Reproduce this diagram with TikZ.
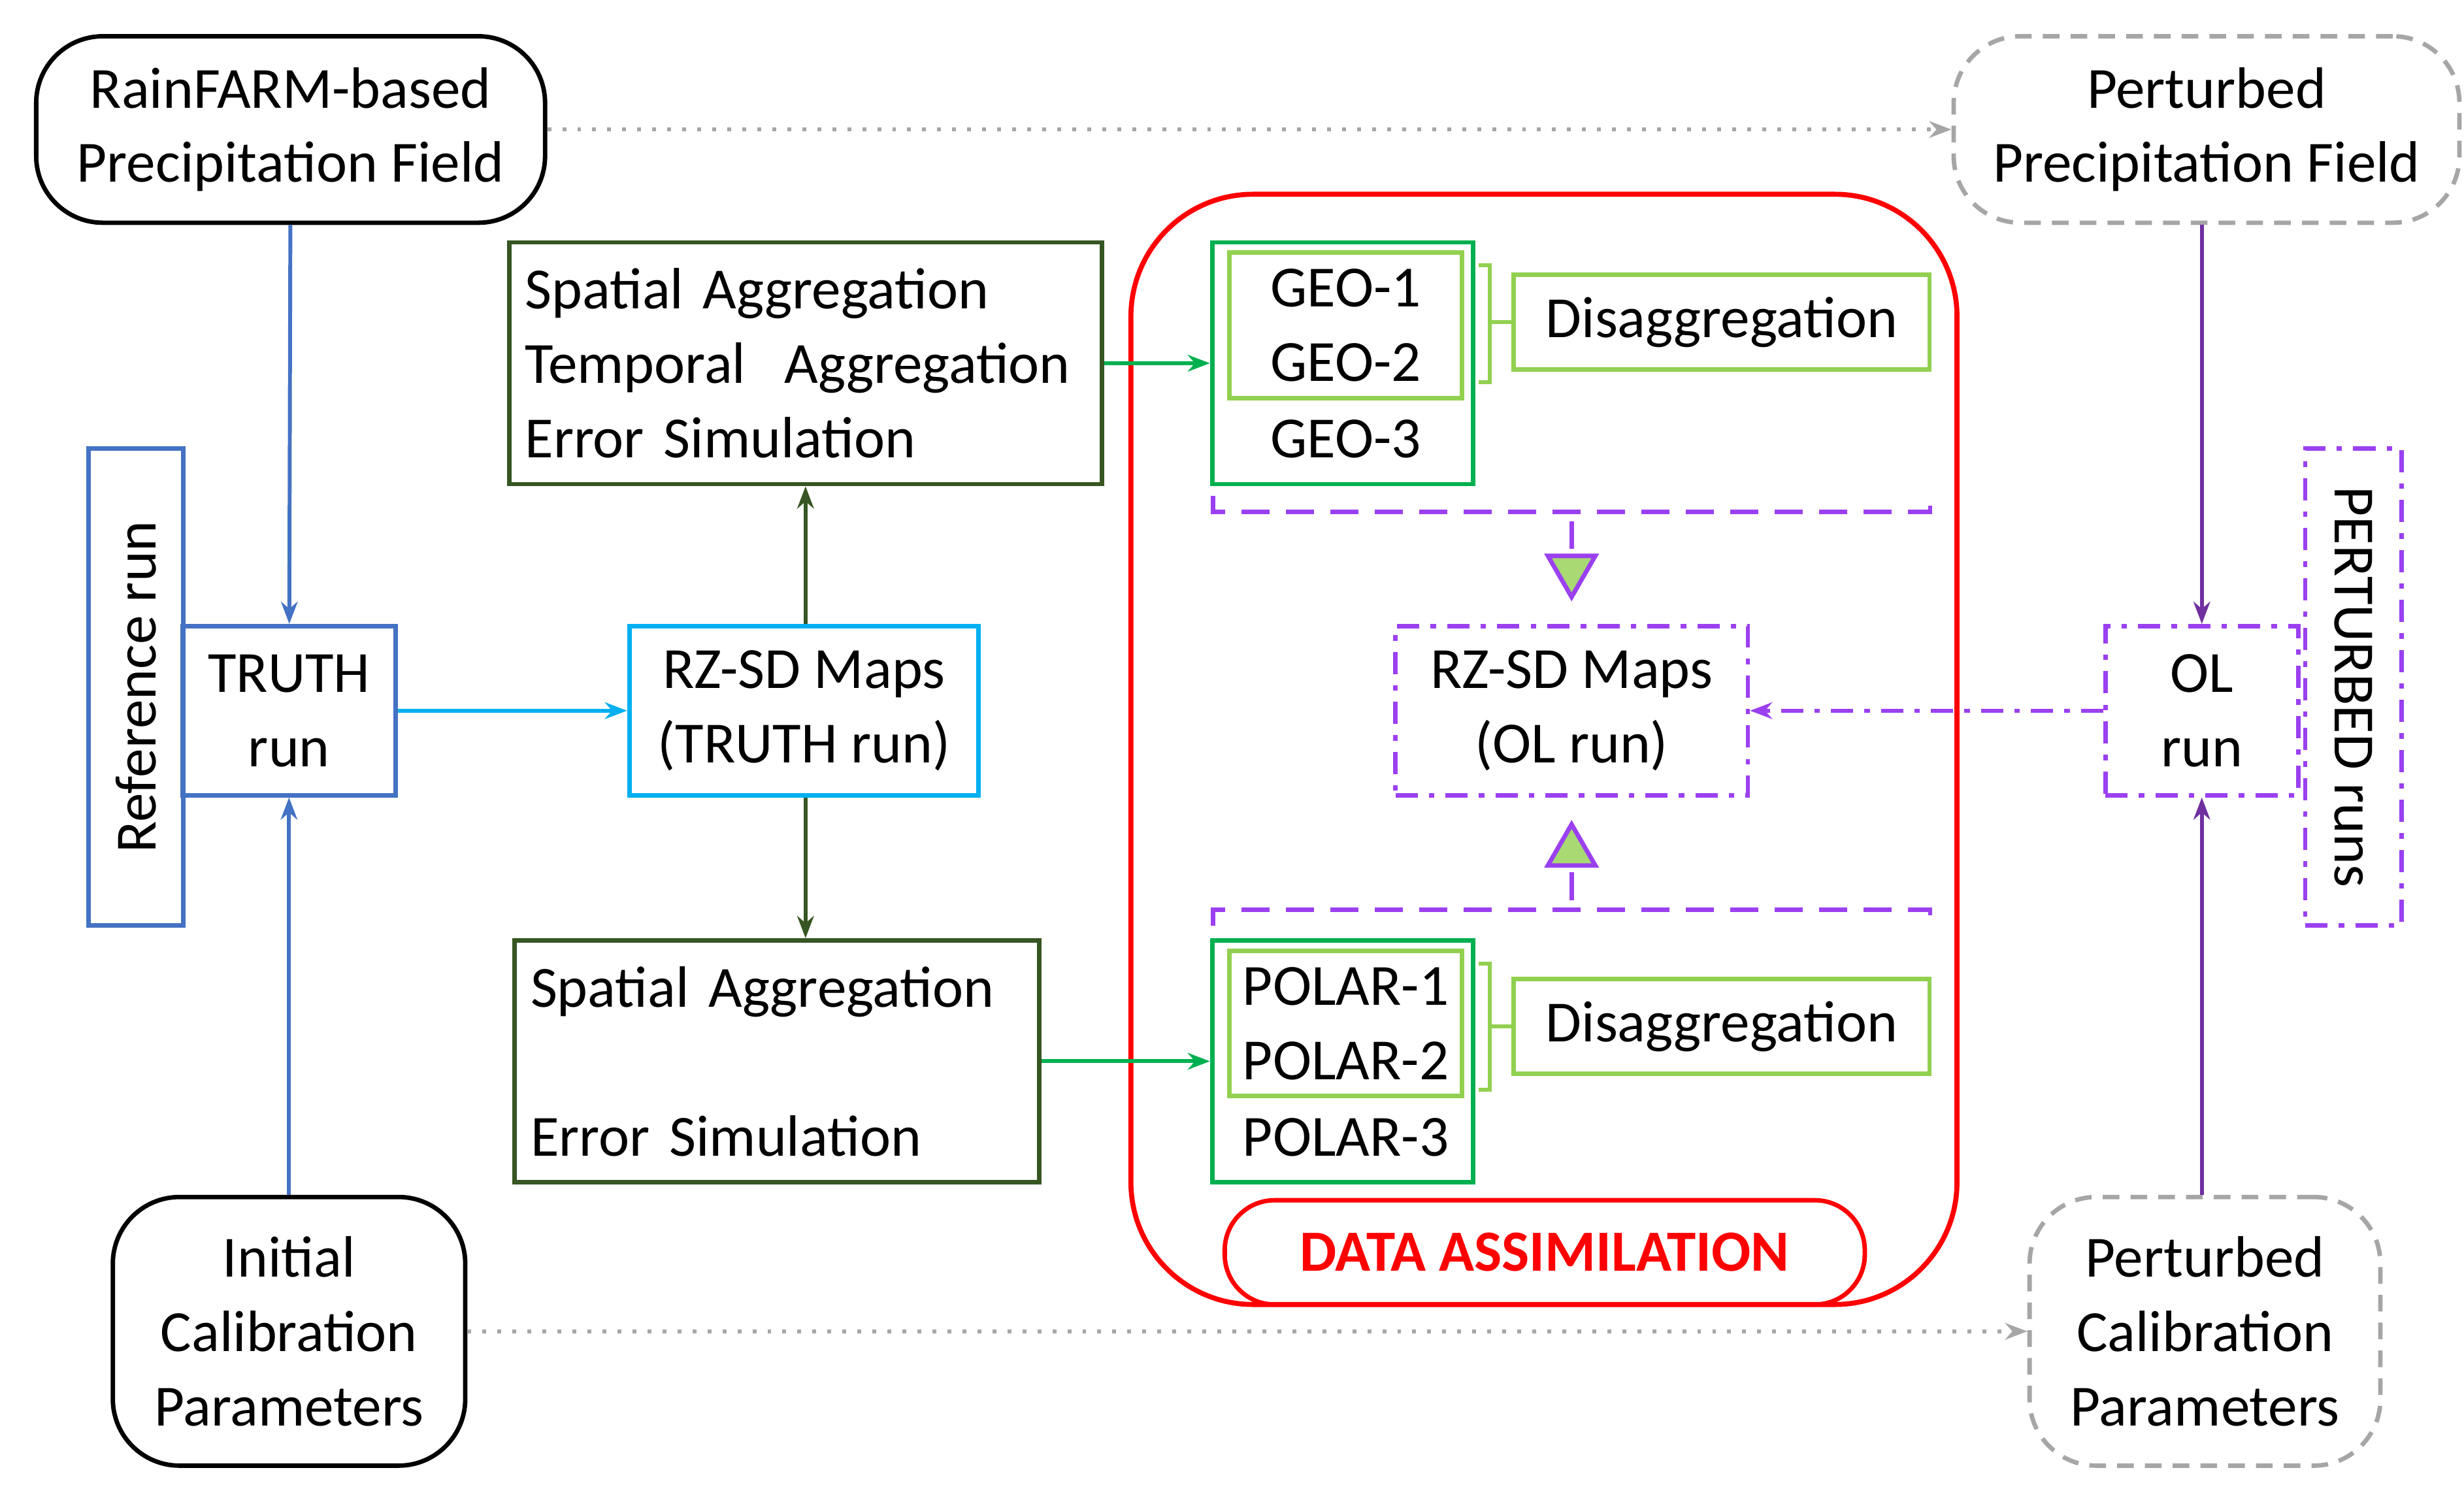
\documentclass[tikz,border=0pt]{standalone}
\usepackage{fontspec}
\setmainfont{Carlito}
\usetikzlibrary{arrows.meta,positioning}
\definecolor{refblue}{HTML}{4472C4}
\definecolor{mapcyan}{HTML}{00B0F0}
\definecolor{aggreen}{HTML}{375623}
\definecolor{satgreen}{HTML}{00B050}
\definecolor{disgreen}{HTML}{92D050}
\definecolor{olpurple}{HTML}{9B40F0}
\definecolor{runpurple}{HTML}{7030A0}
\definecolor{pertgray}{HTML}{A6A6A6}
\begin{document}
\begin{tikzpicture}
[ x=0.01cm, y=-0.01cm, font=\fontsize{10.5}{13.4}\selectfont,
		box/.style={rectangle,draw,line width=0.8pt,inner sep=0pt,align=center},
		source/.style={box,rounded corners=12pt,draw=black},
		perturbed/.style={box,rounded corners=12pt,draw=pertgray,dash pattern=on 3pt off 2pt},
		truthbox/.style={box,draw=refblue},
		aggbox/.style={box,draw=aggreen,align=left},
		satbox/.style={box,draw=satgreen},
		disbox/.style={box,draw=disgreen},
		olbox/.style={box,draw=olpurple,dash pattern=on 4pt off 2pt on 1pt off 2pt},
		arrowTruth/.style={-{Stealth[length=4pt]},line width=0.7pt,draw=refblue},
		arrowAgg/.style={-{Stealth[length=4pt]},line width=0.7pt},
		arrowPert/.style={-{Stealth[length=4pt]},line width=0.7pt,draw=pertgray,dotted}]
	\useasboundingbox (0,0) rectangle (1560,940);

	% sources and perturbed inputs
	\node[source,minimum width=3.22cm,minimum height=1.18cm] (rainfarm) at (184,82) {RainFARM-based\\Precipitation Field};
	\node[perturbed,minimum width=3.2cm,minimum height=1.18cm] (pertprec) at (1397,82) {Perturbed\\Precipitation Field};
	\node[source,minimum width=2.23cm,minimum height=1.7cm] (calib) at (183,843) {Initial\\Calibration\\Parameters};
	\node[perturbed,minimum width=2.22cm,minimum height=1.7cm] (pertcalib) at (1396,843) {Perturbed\\Calibration\\Parameters};

	% reference run
	\node[truthbox,minimum width=0.6cm,minimum height=3.02cm] (refrun) at (86,435) {};
	\node[rotate=90] at (refrun) {Reference run};
	\node[truthbox,minimum width=1.35cm,minimum height=1.07cm] (truth) at (183,450) {TRUTH\\run};
	\node[box,draw=mapcyan,minimum width=2.21cm,minimum height=1.07cm] (maptruth) at (509,450) {RZ-SD Maps\\(TRUTH run)};
	\node[aggbox,minimum width=3.75cm,minimum height=1.53cm,text width=3.55cm] (aggtop) at (510,230) {Spatial Aggregation\\Temporal\ \ Aggregation\\Error Simulation};
	\node[aggbox,minimum width=3.32cm,minimum height=1.53cm,text width=3.12cm] (aggbot) at (492,672) {Spatial Aggregation\\[\baselineskip]Error Simulation};

	% data assimilation
	\draw[red,line width=0.9pt,rounded corners=22pt] (716,123) rectangle (1239,826);
	\node[box,draw=red,rounded corners=9pt,minimum width=4.05cm,minimum height=0.66cm,text=red,font=\fontsize{10.5}{13.4}\selectfont\bfseries] (da) at (978,793) {DATA ASSIMILATION};

	\node[satbox,minimum width=1.65cm,minimum height=1.53cm] (geo) at (850,230) {};
	\node[disbox,minimum width=1.47cm,minimum height=0.92cm] (geoin) at (852,206) {GEO-1\\GEO-2};
	\node at (852,278) {GEO-3};
	\node[disbox,minimum width=2.63cm,minimum height=0.6cm] (disgeo) at (1090,204) {Disaggregation};
	\node[satbox,minimum width=1.65cm,minimum height=1.53cm] (polar) at (850,672) {};
	\node[disbox,minimum width=1.47cm,minimum height=0.92cm] (polarin) at (852,648) {POLAR-1\\POLAR-2};
	\node at (852,720) {POLAR-3};
	\node[disbox,minimum width=2.63cm,minimum height=0.6cm] (dispolar) at (1090,650) {Disaggregation};

	\draw[disgreen,line width=0.7pt] (936,168) -- (943,168) -- (943,242) -- (936,242) (943,204) -- (disgeo.west);
	\draw[disgreen,line width=0.7pt] (936,610) -- (943,610) -- (943,690) -- (936,690) (943,650) -- (dispolar.west);

	\node[olbox,minimum width=2.23cm,minimum height=1.07cm] (mapol) at (995,450) {RZ-SD Maps\\(OL run)};
	\node[olbox,minimum width=1.22cm,minimum height=1.07cm] (olrun) at (1394,450) {OL\\run};
	\node[olbox,minimum width=0.61cm,minimum height=3.02cm] (pertruns) at (1490,435) {};
	\node[rotate=-90] at (pertruns) {PERTURBED runs};

	% brackets and triangles into the OL maps
	\draw[olpurple,line width=0.8pt,dash pattern=on 5pt off 3pt] (768,314) -- (768,324) -- (1222,324) -- (1222,314) (995,330) -- (995,348);
	\draw[olpurple,line width=0.8pt,dash pattern=on 5pt off 3pt] (768,586) -- (768,576) -- (1222,576) -- (1222,586) (995,570) -- (995,552);
	\filldraw[fill=disgreen!80!white,draw=olpurple,line width=0.8pt] (980,352) -- (1010,352) -- (995,378) -- cycle;
	\filldraw[fill=disgreen!80!white,draw=olpurple,line width=0.8pt] (980,548) -- (1010,548) -- (995,522) -- cycle;

	% connectors
	\draw[arrowTruth] (rainfarm) -- (truth);
	\draw[arrowTruth] (calib) -- (truth);
	\draw[arrowTruth,draw=mapcyan] (truth) -- (maptruth);
	\draw[arrowAgg,draw=aggreen] (maptruth.north -| aggtop.south) -- (aggtop.south);
	\draw[arrowAgg,draw=aggreen] (maptruth.south -| aggtop.south) -- (aggbot.north -| aggtop.south);
	\draw[arrowAgg,draw=satgreen] (aggtop) -- (geo);
	\draw[arrowAgg,draw=satgreen] (aggbot) -- (polar);
	\draw[arrowPert] (rainfarm) -- (pertprec);
	\draw[arrowPert] (calib) -- (pertcalib);
	\draw[arrowAgg,draw=runpurple] (pertprec.south -| olrun.north) -- (olrun.north);
	\draw[arrowAgg,draw=runpurple] (pertcalib.north -| olrun.south) -- (olrun.south);
	\draw[arrowAgg,draw=olpurple,dash pattern=on 4pt off 2pt on 1pt off 2pt] (olrun) -- (mapol);
\end{tikzpicture}
\end{document}
